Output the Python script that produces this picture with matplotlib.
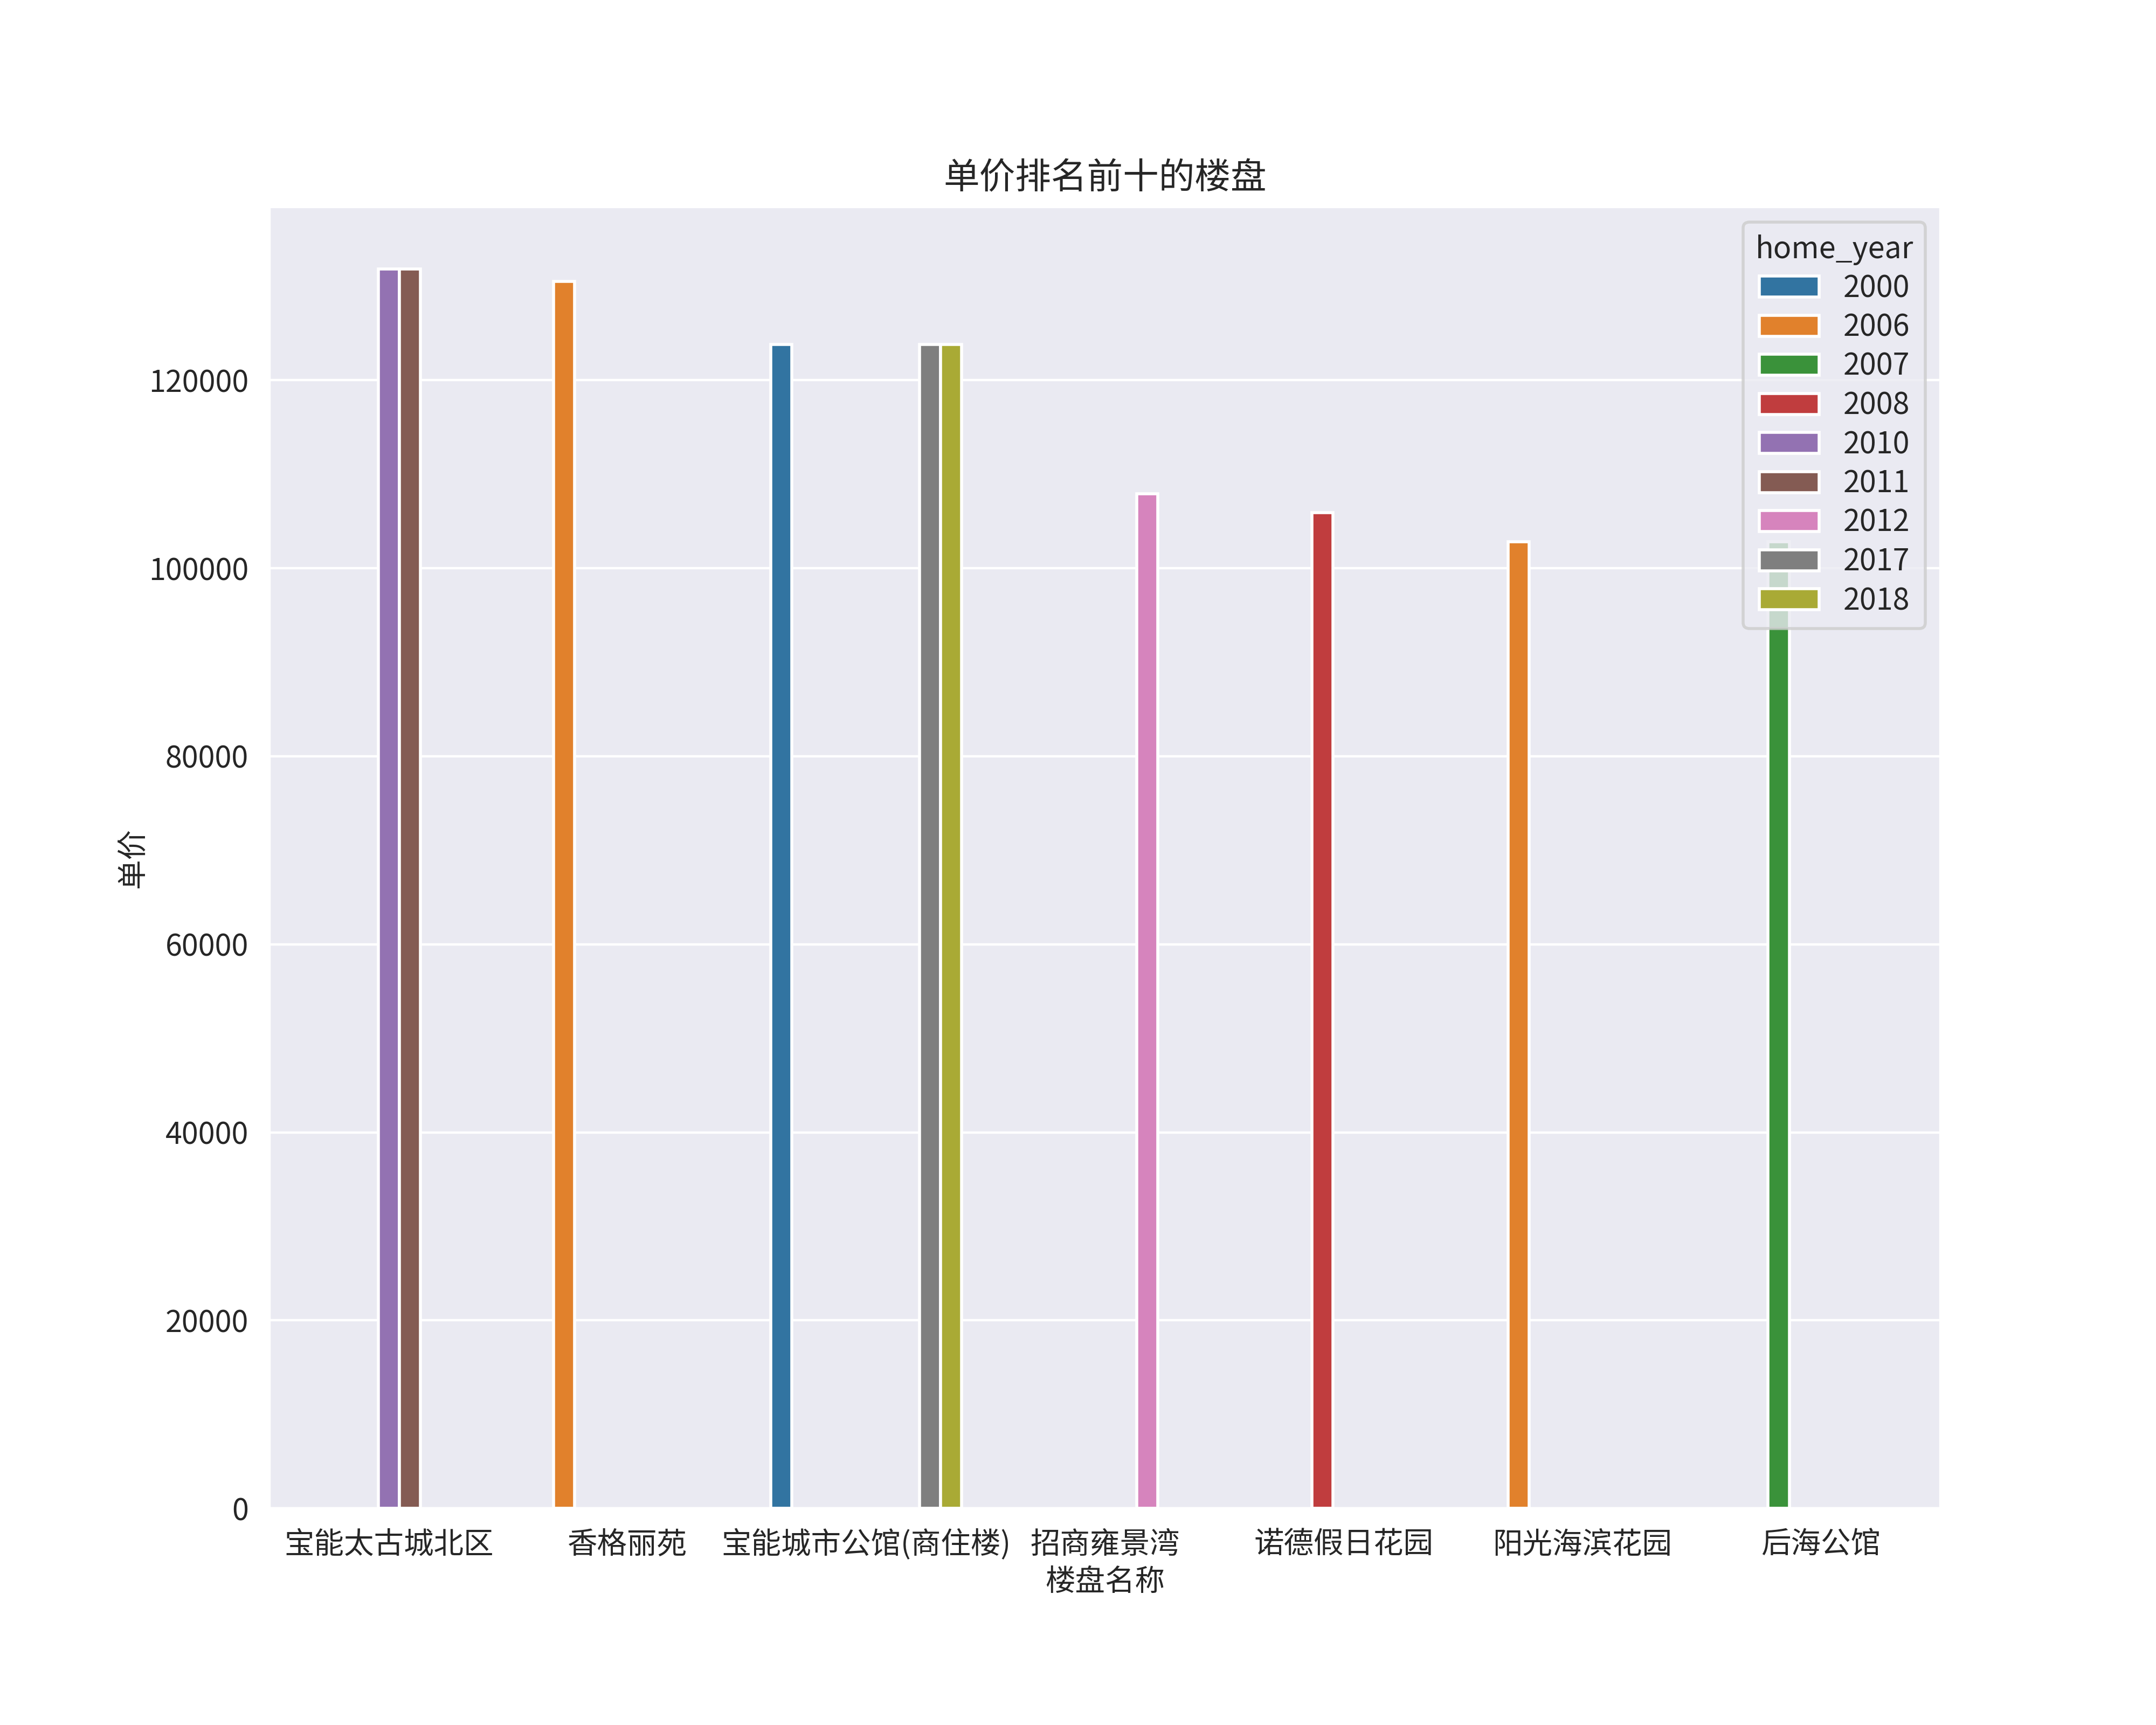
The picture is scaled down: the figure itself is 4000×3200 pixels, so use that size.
import matplotlib
matplotlib.use("Agg")
import matplotlib.pyplot as plt
import seaborn as sns
import numpy as np

sns.set_style("darkgrid")
plt.rcParams['font.family'] = ['Noto Sans CJK SC', 'DejaVu Sans']
plt.rcParams['axes.unicode_minus'] = False

# data
names = ['宝能太古城北区', '宝能太古城北区', '香格丽苑', '宝能城市公馆(商住楼)',
         '宝能城市公馆(商住楼)', '宝能城市公馆(商住楼)', '招商雍景湾', '诺德假日花园',
         '阳光海滨花园', '后海公馆']
years = ['2010', '2011', '2006', '2000', '2017', '2018', '2012', '2008', '2006', '2007']
prices = [131800, 131800, 130500, 123800, 123800, 123800, 107900, 105900, 102800, 102800]

categories = list(dict.fromkeys(names))
hue_levels = sorted(set(years))
palette = sns.color_palette("tab10", len(hue_levels), desat=0.75)

fig, ax = plt.subplots(figsize=(10, 8), dpi=400)
fig.subplots_adjust(bottom=0.1255)
n = len(hue_levels)
width = 0.8
bw = width / n
for i, lvl in enumerate(hue_levels):
    xs, hs = [], []
    for nm, yr, p in zip(names, years, prices):
        if yr == lvl:
            xs.append(categories.index(nm) - width / 2 + bw * (i + 0.5))
            hs.append(p)
    ax.bar(xs, hs, width=bw, color=palette[i], edgecolor='white',
           linewidth=1, label=lvl)

ax.set_xticks(range(len(categories)))
ax.set_xticklabels(categories)
ax.set_xlim(-0.5, len(categories) - 0.5)
ax.xaxis.grid(False)
ax.set_xlabel('楼盘名称', labelpad=2)
ax.set_ylabel('单价', labelpad=0)
ax.set_title('单价排名前十的楼盘')
ax.legend(title='home_year', loc='upper right', labelspacing=0.27)

fig.savefig('out.png', dpi=400)
